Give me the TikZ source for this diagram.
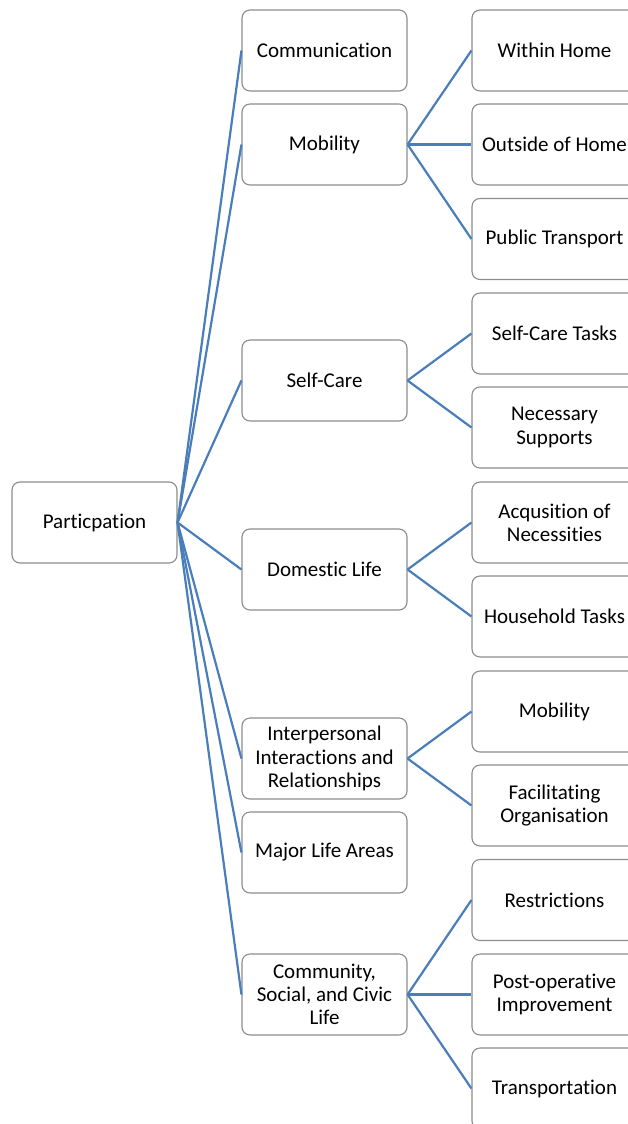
\documentclass[tikz,border=0pt]{standalone}
\usepackage{fontspec}
\setmainfont{Carlito}[Ligatures=NoCommon]
\definecolor{linkblue}{HTML}{4A7EBB}
\definecolor{boxgray}{HTML}{8C8C8C}
\begin{document}
\begin{tikzpicture}[x=1pt,y=-1pt,
  box/.style={draw=boxgray, line width=1.1pt, rounded corners=8pt, fill=white,
    minimum width=165pt, minimum height=81pt, inner sep=0pt, align=center,
    font=\fontsize{21}{23.3}\selectfont},
  link/.style={draw=linkblue, line width=2.2pt}]
\useasboundingbox (0,0) rectangle (628,1124);
\clip (0,0) rectangle (628,1124);
% root
\node[box] (root) at (94.5,522.5) {Particpation};
% level 1
\node[box] (comm) at (324.5,50.5) {Communication};
\node[box] (mob) at (324.5,144.5) {Mobility};
\node[box] (self) at (324.5,380.5) {Self-Care};
\node[box] (dom) at (324.5,569.5) {Domestic Life};
\node[box] (inter) at (324.5,758.5) {Interpersonal\\Interactions and\\Relationships};
\node[box] (major) at (324.5,852.5) {Major Life Areas};
\node[box] (comty) at (324.5,994.5) {Community,\\Social, and Civic\\Life};
% level 2
\node[box] (within) at (554.5,50.5) {Within Home};
\node[box] (outside) at (554.5,144.5) {Outside of Home};
\node[box] (public) at (554.5,239) {Public Transport};
\node[box] (sctasks) at (554.5,333.5) {Self-Care Tasks};
\node[box] (necsup) at (554.5,427.5) {Necessary\\Supports};
\node[box] (acq) at (554.5,522.5) {Acqusition of\\Necessities};
\node[box] (house) at (554.5,616.5) {Household Tasks};
\node[box] (mob2) at (554.5,711.5) {Mobility};
\node[box] (facil) at (554.5,805.5) {Facilitating\\Organisation};
\node[box] (restr) at (554.5,900) {Restrictions};
\node[box] (postop) at (554.5,994.5) {Post-operative\\Improvement};
\node[box] (transp) at (554.5,1088.5) {Transportation};
% connectors
\foreach \t in {comm,mob,self,dom,inter,major,comty}
  \draw[link] (root.east) -- (\t.west);
\foreach \t in {within,outside,public}
  \draw[link] (mob.east) -- (\t.west);
\foreach \t in {sctasks,necsup}
  \draw[link] (self.east) -- (\t.west);
\foreach \t in {acq,house}
  \draw[link] (dom.east) -- (\t.west);
\foreach \t in {mob2,facil}
  \draw[link] (inter.east) -- (\t.west);
\foreach \t in {restr,postop,transp}
  \draw[link] (comty.east) -- (\t.west);
\end{tikzpicture}
\end{document}
